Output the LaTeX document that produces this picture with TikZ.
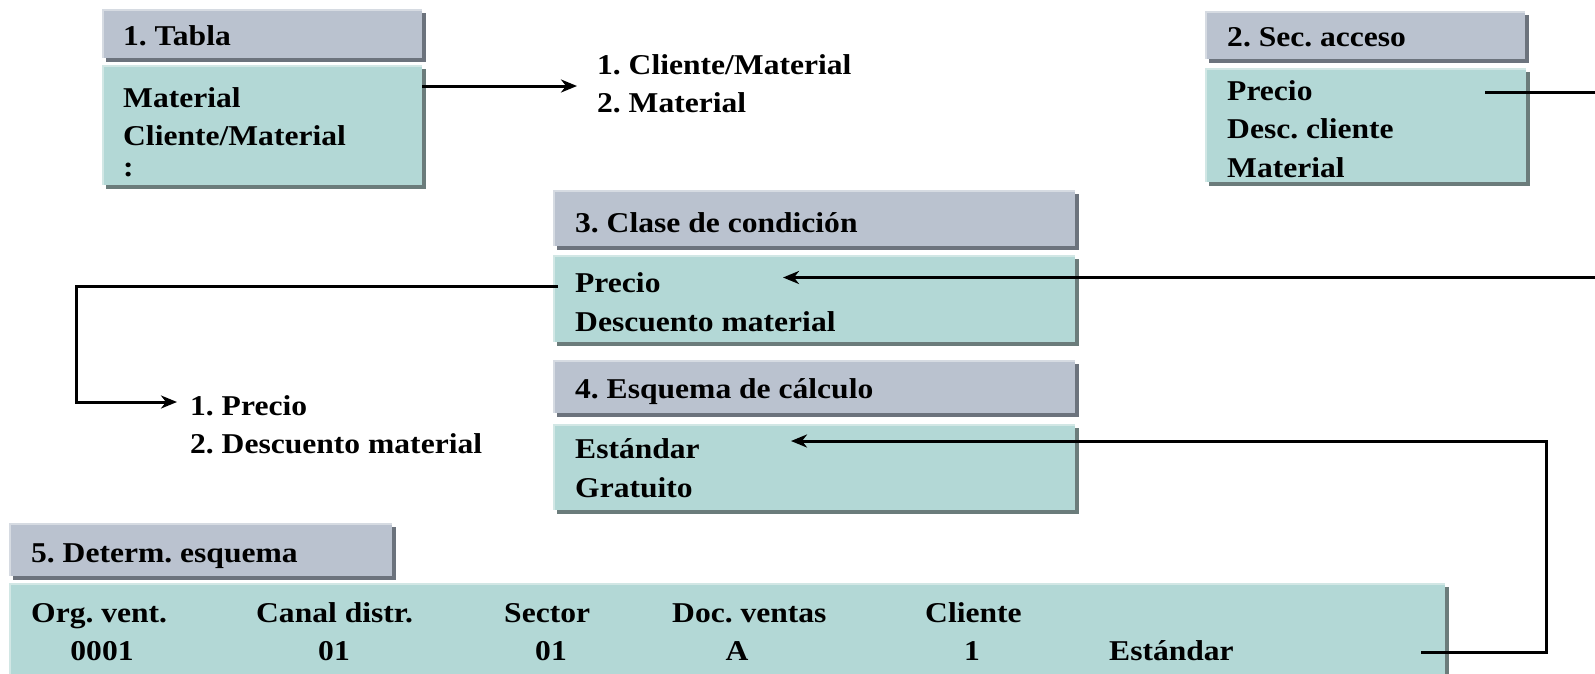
\documentclass[tikz,border=0pt]{standalone}
\usepackage{fontspec}
\setmainfont{Liberation Serif}[FakeStretch=1.1]
\usetikzlibrary{arrows.meta,shadows}
\definecolor{hdr}{RGB}{186,194,207}
\definecolor{hdrlt}{RGB}{214,219,226}
\definecolor{hdrsh}{RGB}{108,115,125}
\definecolor{bod}{RGB}{179,216,214}
\definecolor{bodlt}{RGB}{210,231,229}
\definecolor{bodsh}{RGB}{107,124,123}
\tikzset{
  panel/.style={anchor=north west, inner sep=0pt, draw=none},
  hdrbox/.style={panel, fill=hdr,
    drop shadow={shadow xshift=3.5pt, shadow yshift=-3.5pt, fill=hdrsh, opacity=1},
    path picture={\draw[hdrlt, line width=4pt]
      (path picture bounding box.south west) -- (path picture bounding box.north west)
      -- (path picture bounding box.north east);}},
  bodbox/.style={panel, fill=bod,
    drop shadow={shadow xshift=3.5pt, shadow yshift=-3.5pt, fill=bodsh, opacity=1},
    path picture={\draw[bodlt, line width=4pt]
      (path picture bounding box.south west) -- (path picture bounding box.north west)
      -- (path picture bounding box.north east);}},
  txt/.style={anchor=base west, inner sep=0pt, font=\fontsize{28.7}{34}\selectfont\bfseries\frenchspacing},
  ctxt/.style={txt, anchor=base},
  arr/.style={line width=3pt, -{Stealth[length=16pt, width=13pt, inset=5pt]}},
}
\begin{document}
\frenchspacing
\begin{tikzpicture}[x=1pt, y=-1pt]
\useasboundingbox (0,0) rectangle (1595,673);
\fill[white] (0,0) rectangle (1595,673);

% boxes
\node[hdrbox, minimum width=320pt, minimum height=49pt] (b1h) at (102,9) {};
\node[bodbox, minimum width=320pt, minimum height=120pt] (b1c) at (102,65) {};
\node[hdrbox, minimum width=320pt, minimum height=48pt] (b2h) at (1205,11) {};
\node[bodbox, minimum width=321pt, minimum height=114pt] (b2c) at (1205,68) {};
\node[hdrbox, minimum width=522pt, minimum height=56pt] (b3h) at (553,190) {};
\node[bodbox, minimum width=522pt, minimum height=87pt] (b3c) at (553,255) {};
\node[hdrbox, minimum width=522pt, minimum height=53pt] (b4h) at (553,360) {};
\node[bodbox, minimum width=522pt, minimum height=86pt] (b4c) at (553,424) {};
\node[hdrbox, minimum width=383pt, minimum height=53pt] (b5h) at (9,523) {};
\node[bodbox, minimum width=1436pt, minimum height=100pt] (b5c) at (9,583) {};

% texts box 1
\node[txt] (t1h) at (123,45) {1. Tabla};
\node[txt] (t1a) at (123,107) {Material};
\node[txt] (t1b) at (123,145) {Cliente/Material};
\node[txt] (t1c) at (123,176) {:};
% list 1
\node[txt] (l1a) at (597,74) {1. Cliente/Material};
\node[txt] (l1b) at (597,112.5) {2. Material};
% box 2
\node[txt] (t2h) at (1227,46) {2. Sec. acceso};
\node[txt] (t2a) at (1227,100) {Precio};
\node[txt] (t2b) at (1227,138.5) {Desc. cliente};
\node[txt] (t2c) at (1227,177) {Material};
% box 3
\node[txt] (t3h) at (575,232.5) {3. Clase de condición};
\node[txt] (t3a) at (575,292) {Precio};
\node[txt] (t3b) at (575,331) {Descuento material};
% box 4
\node[txt] (t4h) at (575,398) {4. Esquema de cálculo};
\node[txt] (t4a) at (575,458) {Estándar};
\node[txt] (t4b) at (575,497.5) {Gratuito};
% list 2
\node[txt] (l2a) at (190,415) {1. Precio};
\node[txt] (l2b) at (190,453) {2. Descuento material};
% box 5
\node[txt] (t5h) at (31,562) {5. Determ. esquema};
\node[txt] (c1a) at (31,622) {Org. vent.};
\node[ctxt] (c1b) at (102,660) {0001};
\node[txt] (c2a) at (256,622) {Canal distr.};
\node[ctxt] (c2b) at (334,660) {01};
\node[txt] (c3a) at (504,622) {Sector};
\node[ctxt] (c3b) at (551,660) {01};
\node[txt] (c4a) at (672,622) {Doc. ventas};
\node[ctxt] (c4b) at (737,660) {A};
\node[txt] (c5a) at (925,622) {Cliente};
\node[ctxt] (c5b) at (972,660) {1};
\node[txt] (c6b) at (1109,660) {Estándar};

% connector coordinates
\coordinate (a1e) at (577,86);
\coordinate (a2s) at (1485,92);
\coordinate (a2r) at (1620,0);
\coordinate (a2e) at (783,277.5);
\coordinate (a3s) at (558,286);
\coordinate (a3k) at (76,286);
\coordinate (a3e) at (177,402);
\coordinate (a4s) at (1421,652);
\coordinate (a4k) at (1546,652);
\coordinate (a4e) at (791,441);

% connectors
\draw[arr] (b1c.east |- a1e) -- (a1e);
\draw[arr] (a2s) -- (a2s -| a2r) -- (a2e -| a2r) -- (a2e);
\draw[arr] (a3s) -- (a3k) |- (a3e);
\draw[arr] (a4s) -- (a4k) |- (a4e);
\end{tikzpicture}
\end{document}
